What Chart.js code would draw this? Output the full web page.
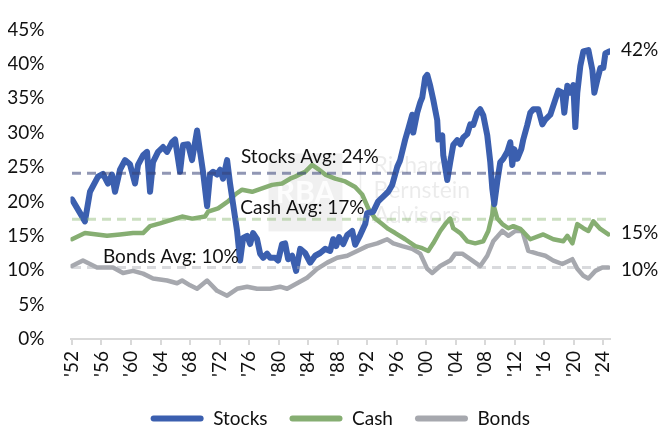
<!DOCTYPE html>
<html><head><meta charset="utf-8">
<script src="https://cdn.jsdelivr.net/npm/chart.js@4.4.1/dist/chart.umd.min.js"></script>
<style>html,body{margin:0;padding:0;background:#fff;}</style>
</head><body>
<canvas id="c" width="671" height="428"></canvas>
<script>
const seriesNames = ['Stocks', 'Cash', 'Bonds'];
const stockYears = [1952.00,1953.76,1954.44,1955.53,1956.20,1956.88,1957.42,1957.83,1958.51,1959.19,
1959.86,1960.54,1960.95,1961.63,1962.17,1962.58,1962.98,1963.66,1964.34,1964.88,
1965.56,1965.97,1966.64,1967.05,1967.73,1968.27,1968.95,1969.36,1969.76,1970.31,
1970.71,1971.12,1971.66,1972.07,1972.47,1973.02,1973.42,1973.83,1974.37,1974.78,
1975.19,1975.73,1976.14,1976.54,1977.08,1977.49,1977.90,1978.44,1978.85,1979.53,
1979.93,1980.47,1980.88,1981.29,1981.83,1982.37,1982.92,1983.59,1984.27,1984.95,
1985.63,1986.31,1986.98,1987.39,1987.80,1988.20,1988.75,1989.29,1989.97,1990.37,
1991.05,1991.73,1992.00,1992.81,1993.49,1994.17,1994.85,1995.39,1996.07,1996.47,
1997.15,1997.56,1998.10,1998.24,1998.78,1999.19,1999.46,1999.86,2000.14,2000.54,
2000.95,2001.49,2001.63,2002.17,2002.31,2002.85,2003.25,2003.66,2004.20,2004.61,
2005.02,2005.56,2005.97,2006.37,2006.92,2007.32,2007.73,2008.27,2008.68,2008.95,
2009.22,2009.63,2010.03,2010.44,2010.98,2011.39,2011.66,2011.93,2012.34,2012.88,
2013.15,2013.69,2014.10,2014.51,2015.19,2015.73,2016.14,2016.81,2017.49,2017.90,
2018.44,2018.71,2019.12,2019.53,2019.93,2020.20,2020.47,2020.88,2021.29,2021.97,
2022.51,2022.78,2023.19,2023.59,2024.00,2024.27,2024.81];
const stockVals = [20.3,17.1,21.4,23.6,24.0,22.6,23.9,21.4,24.6,26.0,
25.4,22.6,25.3,26.7,27.2,21.4,25.7,27.2,27.9,27.2,
28.6,29.0,24.3,28.2,28.3,26.0,30.3,27.2,24.3,19.3,
23.9,24.3,23.9,24.6,23.3,26.0,22.6,19.6,15.7,11.4,
14.7,15.0,13.8,15.4,14.5,12.4,11.8,12.4,11.8,11.8,
11.4,13.8,13.9,11.6,12.1,9.9,13.1,12.5,11.1,12.1,
12.5,13.1,12.8,14.5,13.5,14.8,13.8,15.1,15.7,13.7,
15.1,16.7,18.3,18.5,20.0,20.7,21.4,22.4,25.0,26.0,
29.0,30.5,32.6,30.0,32.9,34.4,35.1,38.0,38.4,36.8,
34.8,31.8,29.0,29.6,26.7,23.1,25.7,28.2,28.9,28.3,
29.3,29.8,31.2,31.1,32.9,33.4,32.5,29.6,25.7,21.9,
19.6,22.9,25.7,26.2,27.2,28.6,25.3,27.6,26.2,27.6,
29.0,31.1,32.9,33.4,33.4,31.2,31.9,32.6,34.8,36.1,
35.8,32.9,36.8,35.8,36.9,30.8,35.8,39.7,41.8,42.0,
39.1,35.8,37.7,39.4,39.4,41.5,41.8];
const cashYears = [1952.00,1953.76,1955.39,1956.75,1958.51,1960.27,1961.63,1962.58,1963.93,1965.69,
1966.92,1968.27,1970.03,1970.44,1971.80,1973.15,1974.10,1975.05,1976.41,1977.76,
1979.12,1980.47,1981.56,1982.24,1983.59,1984.54,1985.36,1986.31,1987.66,1989.02,
1990.37,1991.32,1992.14,1993.08,1994.03,1994.85,1995.80,1997.15,1998.51,1999.46,
2000.27,2000.95,2001.90,2002.58,2003.25,2003.66,2004.61,2005.56,2006.64,2007.73,
2008.41,2008.95,2009.08,2009.63,2010.31,2011.12,2011.80,2012.75,2014.10,2015.86,
2017.22,2018.58,2019.12,2019.80,2020.47,2021.29,2021.97,2022.64,2023.59,2024.68];
const cashVals = [14.5,15.4,15.2,15.0,15.2,15.4,15.4,16.4,16.8,17.4,
17.8,17.5,17.8,18.5,19.0,20.0,21.0,21.7,21.4,21.9,
22.4,22.6,23.3,23.6,24.3,25.3,24.7,23.9,23.3,22.9,
22.1,21.0,19.0,17.5,16.7,16.0,15.4,14.5,13.5,13.2,
12.8,13.9,15.7,16.7,17.5,16.1,15.4,14.2,13.9,14.2,
15.7,18.1,19.6,17.5,16.7,16.1,16.4,16.0,14.5,15.2,
14.5,14.2,15.0,13.9,16.7,16.1,15.7,17.1,16.0,15.2];
const bondYears = [1952.00,1953.49,1955.39,1957.56,1958.92,1960.27,1961.63,1962.98,1964.88,1966.24,
1966.92,1968.00,1968.95,1970.31,1971.66,1973.02,1974.37,1975.73,1977.08,1978.85,
1980.20,1981.15,1982.51,1983.86,1985.22,1986.58,1987.93,1989.29,1990.64,1992.00,
1993.36,1994.71,1995.53,1996.75,1998.10,1999.19,2000.14,2000.81,2001.90,2003.25,
2003.93,2004.88,2005.97,2007.32,2008.27,2009.08,2010.31,2011.12,2012.07,2013.02,
2013.83,2015.05,2016.14,2017.22,2018.44,2019.80,2020.47,2021.29,2021.97,2022.92,
2023.86,2024.68];
const bondVals = [10.6,11.4,10.4,10.4,9.6,9.9,9.5,8.8,8.5,8.1,
8.5,7.8,7.3,8.5,7.0,6.3,7.3,7.6,7.3,7.3,
7.6,7.3,8.1,8.9,10.2,11.1,11.8,12.1,12.8,13.5,
13.9,14.5,13.9,13.5,13.1,12.4,10.2,9.6,10.6,11.4,
12.4,12.4,11.6,10.6,12.1,14.2,15.7,15.0,15.7,15.7,
12.8,12.4,12.1,11.4,10.9,11.6,10.2,9.2,8.8,9.9,
10.4,10.4];
const averages = [24.1, 17.4, 10.4];
const avgYears = [1952.0, 2024.8];
const avgLabels = ['Stocks Avg: 24%', 'Cash Avg: 17%', 'Bonds Avg: 10%'];
const avgLabelYears = [1974.9, 1974.8, 1956.2];
const endLabels = ['42%', '15%', '10%'];
const tickYears = [1952,1956,1960,1964,1968,1972,1976,1980,1984,1988,1992,1996,2000,2004,2008,2012,2016,2020,2024];
const tickLabels = ["'52","'56","'60","'64","'68","'72","'76","'80","'84","'88","'92","'96","'00","'04","'08","'12","'16","'20","'24"];

const FONT = 'Lato';
const colors = ['#3B5FAF', '#86AE72', '#A6A8AE'];
const avgColors = ['rgba(55,66,118,0.55)', 'rgba(140,185,115,0.45)', 'rgba(170,172,180,0.45)'];
const widths = [6, 4.5, 4.5];

const toPts = (xs, vs) => xs.map((x, i) => ({x: x, y: vs[i]}));
const seriesPts = [toPts(stockYears, stockVals), toPts(cashYears, cashVals), toPts(bondYears, bondVals)];

const datasets = seriesNames.map((n, i) => ({
  label: n, data: seriesPts[i], borderColor: colors[i], backgroundColor: colors[i],
  borderWidth: widths[i], pointRadius: 0, tension: 0, borderJoinStyle: 'round', borderCapStyle: 'round',
  order: 1
}));
averages.forEach((a, i) => {
  datasets.push({
    label: 'avg' + i, data: avgYears.map(x => ({x: x, y: a})), borderColor: avgColors[i],
    borderWidth: 3, borderDash: [9, 6], pointRadius: 0, order: 0
  });
});

const overlay = {
  id: 'overlay',
  beforeDatasetsDraw(chart) {
    const {ctx, chartArea: ca} = chart;
    ctx.save();
    const bx = ca.left + 198, by = ca.top + 124;
    ctx.fillStyle = 'rgba(0,0,0,0.06)';
    ctx.fillRect(bx, by, 74, 78);
    ctx.fillStyle = 'rgba(255,255,255,0.85)';
    ctx.font = 'bold 30px ' + FONT;
    ctx.textBaseline = 'middle'; ctx.textAlign = 'center';
    ctx.fillText('RBA', bx + 37, by + 40);
    ctx.strokeStyle = 'rgba(0,0,0,0.07)'; ctx.lineWidth = 1.5;
    ctx.beginPath(); ctx.moveTo(bx + 92, by + 6); ctx.lineTo(bx + 92, by + 78); ctx.stroke();
    ctx.fillStyle = 'rgba(0,0,0,0.08)';
    ctx.font = '23px ' + FONT; ctx.textAlign = 'left';
    ctx.fillText('Richard', bx + 105, by + 12);
    ctx.fillText('Bernstein', bx + 105, by + 37);
    ctx.fillText('Advisors', bx + 105, by + 62);
    ctx.restore();
  },
  afterDatasetsDraw(chart) {
    const {ctx, chartArea: ca, scales: {x, y}} = chart;
    ctx.save();
    ctx.font = '19px ' + FONT;
    ctx.fillStyle = '#111';
    ctx.textBaseline = 'middle'; ctx.textAlign = 'left';
    const offs = [16, 11, 11];
    averages.forEach((a, i) => {
      ctx.fillText(avgLabels[i], x.getPixelForValue(avgLabelYears[i]), y.getPixelForValue(a) - offs[i]);
    });
    const lasts = [stockVals[stockVals.length - 1], cashVals[cashVals.length - 1], bondVals[bondVals.length - 1]];
    const dy = [-2, -2, 2];
    lasts.forEach((v, i) => {
      ctx.fillText(endLabels[i], ca.right + 11, y.getPixelForValue(v) + dy[i]);
    });
    ctx.restore();
  }
};

Chart.defaults.font.family = FONT;
Chart.defaults.color = '#111';

new Chart(document.getElementById('c'), {
  type: 'line',
  data: {datasets: datasets},
  options: {
    responsive: false, animation: false, devicePixelRatio: 1,
    layout: {padding: {left: 8, right: 61, top: 25, bottom: 0}},
    plugins: {
      tooltip: {enabled: false},
      legend: {
        position: 'bottom', maxHeight: 41, fullSize: false,
        labels: {
          boxWidth: 53, boxHeight: 6, padding: 22, color: '#111', useBorderRadius: true,
          font: {size: 19, family: FONT},
          generateLabels(chart) {
            const items = Chart.defaults.plugins.legend.labels.generateLabels(chart);
            return items.filter(it => it.datasetIndex < 3).map(it => {
              it.lineWidth = 0; it.fillStyle = colors[it.datasetIndex]; it.borderRadius = 3; return it;
            });
          }
        }
      }
    },
    scales: {
      x: {
        type: 'linear', min: 1951.8, max: 2024.9,
        afterBuildTicks(scale) { scale.ticks = tickYears.map(v => ({value: v})); },
        afterFit(scale) { scale.height = 48; },
        ticks: {
          minRotation: 90, maxRotation: 90, padding: 6, autoSkip: false,
          font: {size: 19, family: FONT}, color: '#111',
          callback: (v) => { const k = tickYears.indexOf(v); return k >= 0 ? tickLabels[k] : ''; }
        },
        grid: {display: true, drawOnChartArea: false, drawTicks: true, tickLength: 6, color: '#D9D9D9', lineWidth: 2},
        border: {display: true, color: '#D9D9D9', width: 2}
      },
      y: {
        min: 0, max: 45,
        afterFit(scale) { scale.width = 62.5; },
        ticks: {stepSize: 5, padding: 18, font: {size: 19, family: FONT}, color: '#111',
          callback: (v) => v + '%'},
        grid: {display: false},
        border: {display: false}
      }
    }
  },
  plugins: [overlay]
});
</script>
</body></html>
